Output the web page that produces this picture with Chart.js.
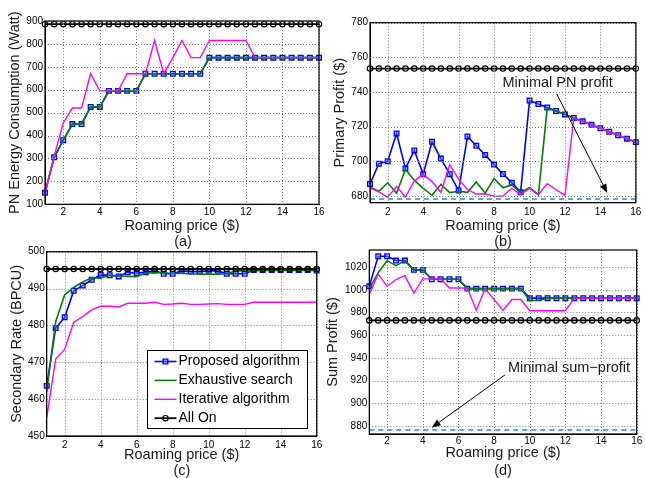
<!DOCTYPE html>
<html>
<head>
<meta charset="utf-8">
<script src="https://cdn.jsdelivr.net/npm/chart.js@4.4.1/dist/chart.umd.min.js"></script>
<style>
  body { margin: 0; background: #fff; width: 645px; height: 478px; position: relative; overflow: hidden;
         font-family: "Liberation Sans", Arial, sans-serif; }
  canvas { position: absolute; }
  .sub { position: absolute; font-size: 14.5px; color: #1a1a1a; transform: translate(-50%, -50%); }
</style>
</head>
<body>
<canvas id="chartA" style="left:0;top:0" width="330" height="236"></canvas>
<canvas id="chartB" style="left:320px;top:0" width="325" height="236"></canvas>
<canvas id="chartC" style="left:0;top:236px" width="330" height="242"></canvas>
<canvas id="chartD" style="left:320px;top:236px" width="325" height="242"></canvas>
<div class="sub" style="left:183px;top:241px">(a)</div>
<div class="sub" style="left:503px;top:241px">(b)</div>
<div class="sub" style="left:182px;top:470px">(c)</div>
<div class="sub" style="left:503px;top:470px">(d)</div>
<script>
// roaming price axis, shared by all four panels
const roamingPrice = [1, 1.5, 2, 2.5, 3, 3.5, 4, 4.5, 5, 5.5, 6, 6.5, 7, 7.5, 8, 8.5,
    9, 9.5, 10, 10.5, 11, 11.5, 12, 12.5, 13, 13.5, 14, 14.5, 15, 15.5, 16];
const xTicks = [2, 4, 6, 8, 10, 12, 14, 16];

const seriesNames = ['Proposed algorithm', 'Exhaustive search', 'Iterative algorithm', 'All On'];

// (a) PN energy consumption (Watt)
const energyProposed = [150, 305, 380, 450, 450, 525, 525, 595, 595, 595, 595, 670, 670, 670, 670, 670,
    670, 670, 740, 740, 740, 740, 740, 740, 740, 740, 740, 740, 740, 740, 740];
const energyExhaustive = [150, 305, 380, 450, 450, 525, 525, 595, 595, 595, 595, 670, 670, 670, 670, 670,
    670, 670, 740, 740, 740, 740, 740, 740, 740, 740, 740, 740, 740, 740, 740];
const energyIterative = [150, 310, 455, 520, 520, 670, 595, 595, 595, 670, 670, 670, 815, 670, 740, 815,
    740, 740, 815, 815, 815, 815, 815, 740, 740, 740, 740, 740, 740, 740, 740];
const energyAllOn = [886, 886, 886, 886, 886, 886, 886, 886, 886, 886, 886, 886, 886, 886, 886, 886,
    886, 886, 886, 886, 886, 886, 886, 886, 886, 886, 886, 886, 886, 886, 886];
const energyTicks = [100, 200, 300, 400, 500, 600, 700, 800, 900];

// (b) primary profit ($)
const profitProposed = [686.8, 698.5, 700, 716, 695.8, 706.2, 692.5, 711.2, 701.5, 692.5, 683, 714.3, 708.9, 703.6, 698, 692.6,
    687.6, 682.1, 735, 733, 731, 729, 727, 725, 723, 721, 719, 717, 715, 713, 711];
const profitExhaustive = [685, 682.6, 687.5, 681.5, 695.3, 689, 684.3, 680.3, 686.5, 681.8, 682.6, 682, 688, 681.5, 690, 684.6,
    686.3, 681.8, 684.8, 680.6, 730.5, 729, 727, 725, 723, 721, 719, 717, 715, 713, 711];
const profitIterative = [684.5, 682.3, 679.2, 685.3, 679.3, 688.5, 692.3, 688.2, 682, 698, 689.6, 683.6, 681, 681.2, 679.8, 679.8,
    684.3, 680.6, 684.3, 680.6, 687, 683.5, 680.2, 725, 723, 721, 719, 717, 715, 713, 711];
const profitAllOn = [753.5, 753.5, 753.5, 753.5, 753.5, 753.5, 753.5, 753.5, 753.5, 753.5, 753.5, 753.5, 753.5, 753.5, 753.5, 753.5,
    753.5, 753.5, 753.5, 753.5, 753.5, 753.5, 753.5, 753.5, 753.5, 753.5, 753.5, 753.5, 753.5, 753.5, 753.5];
const minimalPnProfit = 678.2;
const profitTicks = [680, 700, 720, 740, 760, 780];

// (c) secondary rate (BPCU)
const rateProposed = [463.6, 479.3, 482.2, 489.4, 490.8, 492.4, 493.7, 493.6, 493.3, 494.4, 494.2, 494.4, 494.9, 494, 494, 494.8,
    494.6, 494.6, 494.8, 494.8, 494, 494, 494, 495, 495, 495, 495, 495, 495, 495, 494.9];
const rateExhaustive = [462, 481, 488.3, 490.3, 491.8, 492.9, 492.8, 493.6, 493.4, 493.3, 493.2, 494.2, 494.3, 494.3, 494.1, 494.1,
    494, 493.9, 493.9, 493.9, 494, 494.8, 494.8, 494.8, 494.9, 494.9, 494.9, 494.9, 494.9, 494.9, 494.9];
const rateIterative = [455, 470.9, 473.5, 480.8, 482.4, 484.2, 485.2, 485.2, 485, 486, 486, 486, 486.3, 485.7, 485.8, 486,
    485.7, 485.7, 485.8, 485.9, 485.7, 485.7, 485.7, 486.3, 486.3, 486.3, 486.3, 486.3, 486.3, 486.3, 486.3];
const rateAllOn = [495.3, 495.3, 495.3, 495.3, 495.3, 495.3, 495.3, 495.3, 495.3, 495.3, 495.3, 495.3, 495.3, 495.3, 495.3, 495.3,
    495.3, 495.3, 495.3, 495.3, 495.3, 495.3, 495.3, 495.3, 495.3, 495.3, 495.3, 495.3, 495.3, 495.3, 495.3];
const rateTicks = [450, 460, 470, 480, 490, 500];

// (d) sum profit ($)
const sumProposed = [1003, 1029.5, 1029.5, 1025.7, 1025.7, 1017.5, 1017.5, 1009.2, 1009.2, 1009.2, 1009.2, 1001, 1001, 1001, 1001, 1001,
    1001, 1001, 992.6, 992.6, 992.6, 992.6, 992.6, 992.6, 992.6, 992.6, 992.6, 992.6, 992.6, 992.6, 992.6];
const sumExhaustive = [1001, 1015, 1025.6, 1021.2, 1025.6, 1017.4, 1017.4, 1009.2, 1009.2, 1009.2, 1009.2, 1001, 1001, 1001, 1001, 1001,
    1001, 1001, 990.3, 990.8, 992.6, 992.6, 992.6, 992.6, 992.6, 992.6, 992.6, 992.6, 992.6, 992.6, 992.6];
const sumIterative = [995.8, 1014, 1003, 1009, 1012.4, 997, 1009.6, 1009.6, 1009.6, 1001.5, 1001.5, 1001.5, 982, 1000.8, 991.4, 981.8,
    991.4, 991.4, 981.5, 981.5, 981.5, 981.5, 981.5, 992.6, 992.6, 992.6, 992.6, 992.6, 992.6, 992.6, 992.6];
const sumAllOn = [973, 973, 973, 973, 973, 973, 973, 973, 973, 973, 973, 973, 973, 973, 973, 973,
    973, 973, 973, 973, 973, 973, 973, 973, 973, 973, 973, 973, 973, 973, 973];
const minimalSumProfit = 876.5;
const sumTicks = [880, 900, 920, 940, 960, 980, 1000, 1020];

// annotation anchors in data units
const pnNote = { text: 'Minimal PN profit', textAt: [8.47, 745.3], from: [11.54, 738.8], to: [14.39, 681.6] };
const sumNote = { text: 'Minimal sum\u2212profit', textAt: [8.78, 931.4], from: [8.61, 925], to: [4.5, 878.6] };

const fontFamily = '"Liberation Sans", Arial, Helvetica, sans-serif';
const tickFont = { family: fontFamily, size: 10 };
const titleFont = { family: fontFamily, size: 14.5 };
const gridColor = '#7a7a7a';

function seriesSets(values, dashValue) {
  const sets = [
    { label: seriesNames[0], data: values[0], borderColor: '#0000ff', borderWidth: 1.6,
      pointStyle: 'rect', pointRadius: 3.3, pointBorderWidth: 1.3,
      pointBackgroundColor: 'rgba(90,140,255,0.45)', pointBorderColor: '#0000ff', order: 5, legend: true },
    { label: seriesNames[1], data: values[1], borderColor: '#007f00', borderWidth: 1.6,
      pointRadius: 0, order: 4, legend: true },
    { label: seriesNames[2], data: values[2], borderColor: '#ff00ff', borderWidth: 1.4,
      pointRadius: 0, order: 3, legend: true },
    { label: seriesNames[3], data: values[3], borderColor: '#000000', borderWidth: 1.8,
      pointStyle: 'circle', pointRadius: 2.7, pointBorderWidth: 1.2,
      pointBackgroundColor: 'rgba(255,255,255,0)', pointBorderColor: '#000', order: 2, legend: true }
  ];
  if (dashValue !== undefined) {
    sets.push({ label: 'minimal', data: [{ x: 1, y: dashValue }, { x: 16, y: dashValue }],
      borderColor: '#1e8ce6', borderWidth: 1.5, borderDash: [5, 4], pointRadius: 0, order: 1 });
  }
  sets.forEach(s => { s.fill = false; s.tension = 0; s.clip = false; });
  return sets;
}

// dotted grid and axes box, both drawn after the data
const boxPlugin = {
  id: 'axesBox',
  afterDatasetsDraw(chart) {
    const { ctx, chartArea: a, scales: { x, y } } = chart;
    ctx.save();
    ctx.strokeStyle = gridColor;
    ctx.lineWidth = 1;
    ctx.setLineDash([1, 2]);
    ctx.beginPath();
    xTicks.forEach(v => {
      const px = Math.round(x.getPixelForValue(v)) + 0.5;
      ctx.moveTo(px, a.top);
      ctx.lineTo(px, a.bottom);
    });
    y.ticks.forEach(t => {
      const py = Math.round(y.getPixelForValue(t.value)) + 0.5;
      ctx.moveTo(a.left, py);
      ctx.lineTo(a.right, py);
    });
    ctx.stroke();
    ctx.setLineDash([]);
    ctx.strokeStyle = '#000';
    ctx.lineWidth = 1.2;
    ctx.strokeRect(a.left, a.top, a.right - a.left, a.bottom - a.top);
    ctx.restore();
  }
};

function notePlugin(note) {
  return {
    id: 'arrowNote',
    afterDatasetsDraw(chart) {
      const { ctx, scales: { x, y } } = chart;
      const x1 = x.getPixelForValue(note.from[0]), y1 = y.getPixelForValue(note.from[1]);
      const x2 = x.getPixelForValue(note.to[0]), y2 = y.getPixelForValue(note.to[1]);
      const ang = Math.atan2(y2 - y1, x2 - x1);
      const len = 9, half = 3.5;
      ctx.save();
      ctx.strokeStyle = '#000';
      ctx.fillStyle = '#000';
      ctx.lineWidth = 1;
      ctx.beginPath();
      ctx.moveTo(x1, y1);
      ctx.lineTo(x2 - len * Math.cos(ang), y2 - len * Math.sin(ang));
      ctx.stroke();
      ctx.beginPath();
      ctx.moveTo(x2, y2);
      ctx.lineTo(x2 - len * Math.cos(ang) + half * Math.sin(ang), y2 - len * Math.sin(ang) - half * Math.cos(ang));
      ctx.lineTo(x2 - len * Math.cos(ang) - half * Math.sin(ang), y2 - len * Math.sin(ang) + half * Math.cos(ang));
      ctx.closePath();
      ctx.fill();
      ctx.font = '14.5px ' + fontFamily;
      ctx.textAlign = 'left';
      ctx.textBaseline = 'middle';
      ctx.fillStyle = '#1a1a1a';
      ctx.fillText(note.text, x.getPixelForValue(note.textAt[0]), y.getPixelForValue(note.textAt[1]));
      ctx.restore();
    }
  };
}

const legendPlugin = {
  id: 'boxLegend',
  afterDraw(chart) {
    const { ctx, chartArea: a } = chart;
    const w = 160, h = 78;
    const bx = Math.round(a.right - 10 - w) + 0.5, by = Math.round(a.bottom - 8 - h) + 0.5;
    ctx.save();
    ctx.fillStyle = '#fff';
    ctx.fillRect(bx, by, w, h);
    ctx.strokeStyle = '#000';
    ctx.lineWidth = 1;
    ctx.strokeRect(bx, by, w, h);
    ctx.font = '14px ' + fontFamily;
    ctx.textBaseline = 'middle';
    ctx.textAlign = 'left';
    chart.data.datasets.filter(d => d.legend).forEach((d, i) => {
      const y = by + 11 + i * 18.9;
      ctx.strokeStyle = d.borderColor;
      ctx.lineWidth = d.borderWidth;
      ctx.beginPath();
      ctx.moveTo(bx + 7, y);
      ctx.lineTo(bx + 29, y);
      ctx.stroke();
      if (d.pointRadius) {
        const mx = bx + 18;
        ctx.lineWidth = d.pointBorderWidth;
        ctx.strokeStyle = d.pointBorderColor;
        ctx.fillStyle = d.pointBackgroundColor;
        ctx.beginPath();
        if (d.pointStyle === 'rect') {
          const s = d.pointRadius * Math.SQRT1_2;
          ctx.rect(mx - s, y - s, 2 * s, 2 * s);
        } else {
          ctx.arc(mx, y, d.pointRadius, 0, Math.PI * 2);
        }
        ctx.fill();
        ctx.stroke();
      }
      ctx.fillStyle = '#000';
      ctx.fillText(d.label, bx + 31, y);
    });
    ctx.restore();
  }
};

function makeChart(id, cfg) {
  return new Chart(document.getElementById(id), {
    type: 'line',
    data: { labels: roamingPrice, datasets: seriesSets(cfg.values, cfg.dash) },
    options: {
      responsive: false,
      animation: false,
      devicePixelRatio: 1,
      layout: { padding: { top: cfg.padTop, right: cfg.padRight, left: 0, bottom: 0 } },
      plugins: { legend: { display: false }, tooltip: { enabled: false } },
      scales: {
        x: {
          type: 'linear', min: 1, max: 16,
          afterBuildTicks: s => { s.ticks = xTicks.map(v => ({ value: v })); },
          afterFit: s => { s.height = cfg.xHeight; },
          grid: { drawOnChartArea: false, drawTicks: false },
          border: { color: '#000' },
          ticks: { padding: cfg.xTickPad, font: tickFont, color: '#000', maxRotation: 0, autoSkip: false,
                   callback: v => String(v) },
          title: { display: true, text: 'Roaming price ($)', font: titleFont, color: '#1a1a1a',
                   padding: { top: 0, bottom: cfg.xTitlePad } }
        },
        y: {
          type: 'linear', min: cfg.yMin, max: cfg.yMax,
          afterBuildTicks: s => { s.ticks = cfg.yTicks.map(v => ({ value: v })); },
          afterFit: s => { s.width = cfg.yWidth; },
          grid: { drawOnChartArea: false, drawTicks: false },
          border: { color: '#000' },
          ticks: { padding: 2, font: tickFont, color: '#000', autoSkip: false, callback: v => String(v) },
          title: { display: true, text: cfg.yTitle, font: titleFont, color: '#1a1a1a',
                   padding: { top: cfg.yTitlePad, bottom: 0 } }
        }
      }
    },
    plugins: [boxPlugin].concat(cfg.extra || [])
  });
}

makeChart('chartA', {
  values: [energyProposed, energyExhaustive, energyIterative, energyAllOn],
  yMin: 100, yMax: 900, yTicks: energyTicks, yTitle: 'PN Energy Consumption (Watt)',
  padTop: 21, padRight: 11, yWidth: 45, xHeight: 31.7, xTickPad: 1.7, xTitlePad: 1.3, yTitlePad: 6.3
});

makeChart('chartB', {
  values: [profitProposed, profitExhaustive, profitIterative, profitAllOn], dash: minimalPnProfit,
  yMin: 676, yMax: 780, yTicks: profitTicks, yTitle: 'Primary Profit ($)',
  padTop: 22.7, padRight: 6, yWidth: 50, xHeight: 33.3, xTickPad: 3.6, xTitlePad: 1.3, yTitlePad: 11.3,
  extra: [notePlugin(pnNote)]
});

makeChart('chartC', {
  values: [rateProposed, rateExhaustive, rateIterative, rateAllOn],
  yMin: 450, yMax: 500, yTicks: rateTicks, yTitle: 'Secondary Rate (BPCU)',
  padTop: 15.7, padRight: 13.3, yWidth: 46.7, xHeight: 42, xTickPad: 3.7, xTitlePad: 14.3, yTitlePad: 8.3,
  extra: [legendPlugin]
});

makeChart('chartD', {
  values: [sumProposed, sumExhaustive, sumIterative, sumAllOn], dash: minimalSumProfit,
  yMin: 873, yMax: 1035, yTicks: sumTicks, yTitle: 'Sum Profit ($)',
  padTop: 14, padRight: 8.3, yWidth: 49.3, xHeight: 44, xTickPad: 1.7, xTitlePad: 16.3, yTitlePad: 4.3,
  extra: [notePlugin(sumNote)]
});
</script>
</body>
</html>
